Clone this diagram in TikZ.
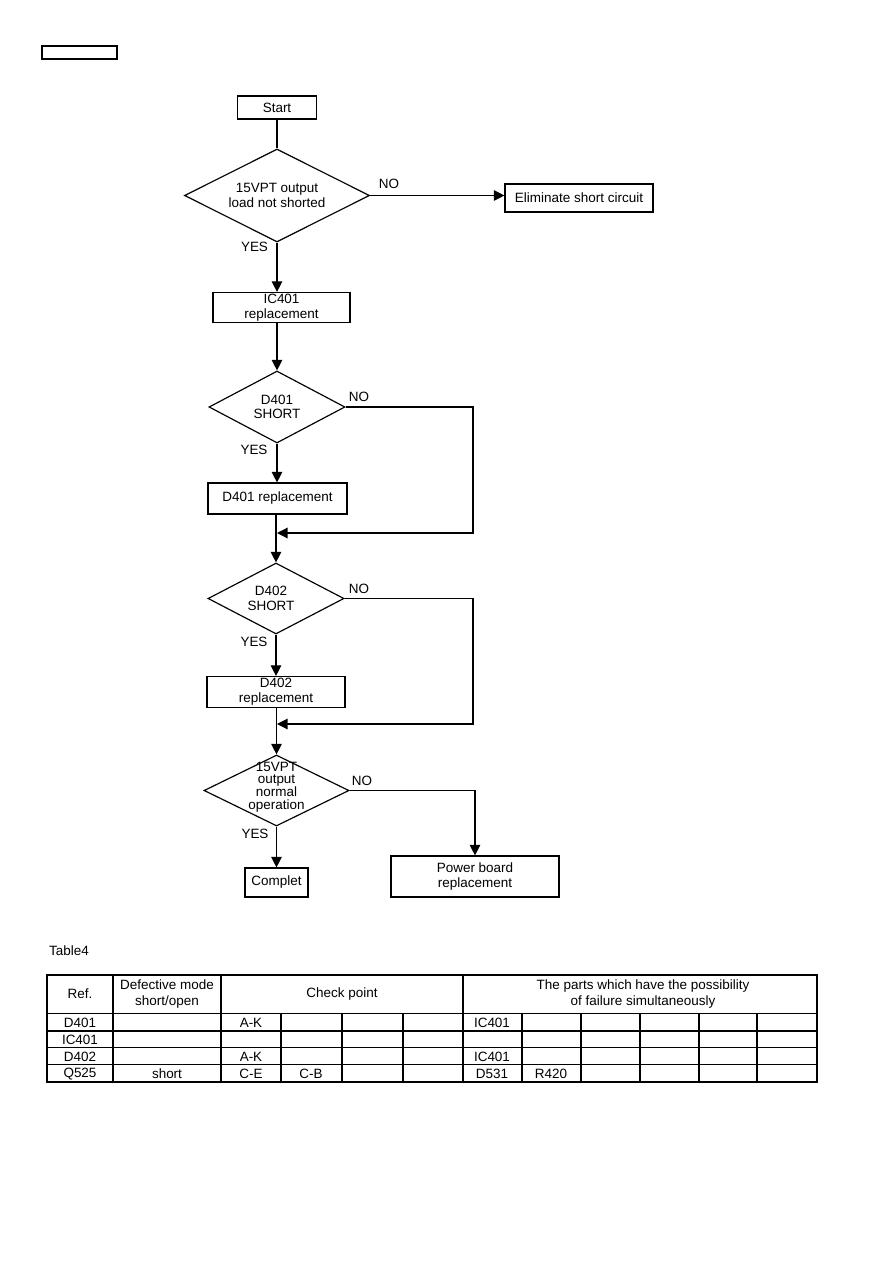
\documentclass[tikz,border=0pt]{standalone}
\usepackage{fontspec}
\setmainfont{Liberation Sans}
\usetikzlibrary{arrows.meta, shapes.geometric, positioning}

\begin{document}
\begin{tikzpicture}[x=0.03cm, y=-0.03cm, font=\fontsize{11.5}{12.5}\selectfont,
	sz/.style 2 args={minimum width=#1*0.03cm, minimum height=#2*0.03cm},
	blk/.style={rectangle, draw, line width=1pt, inner sep=0pt, align=center},
	dec/.style={diamond, draw, line width=1pt, inner sep=0pt, aspect=1},
	fl/.style={-{Triangle[length=9pt, width=9pt]}, line width=1pt},
	ln/.style={line width=1pt},
	tl/.style={line width=1.2pt},
	cell/.style={inner sep=0pt, font=\fontsize{11.5}{14}\selectfont, align=center}]

	\useasboundingbox (0,0) rectangle (893,1263);

	\node[blk, sz={75}{13}] (tag) at (79.5,52.5) {};

	% flow
	\node[blk, sz={79}{23}] (start) at (277,107.5) {Start};
	\node[dec, sz={185}{93}, label={[align=center]center:{15VPT output\\load not shorted}}] (d1) at (277,195.5) {};
	\node[blk, sz={148}{28}] (elim) at (579,198) {Eliminate short circuit};
	\node[blk, sz={137}{30}] (ic401) at (281.5,307.5) {IC401\\replacement};
	\node[dec, sz={136}{72}, label={[align=center]center:{D401\\SHORT}}] (d2) at (277,407) {};
	\node[blk, sz={139}{31}] (r401) at (277.5,498.5) {D401 replacement};
	\node[dec, sz={136}{71}, label={[align=center, xshift=-0.15cm]center:{D402\\SHORT}}] (d3) at (276,598.5) {};
	\node[blk, sz={138}{31}] (r402) at (276,692) {D402\\replacement};
	\node[dec, sz={145}{71}, label={[align=center, yshift=0.1cm, font={\fontsize{11.5}{11}\selectfont\lineskiplimit=-20pt}]center:{15VPT\\output\\normal\\operation}}] (d4) at (276.5,790.5) {};
	\node[blk, sz={63}{29}] (done) at (276.5,882.5) {Complet};
	\node[blk, sz={168}{41}] (pwr) at (475,876.5) {Power board\\replacement};

	\coordinate (j1) at (277,533);
	\coordinate (c1) at (473,533);
	\coordinate (j2) at (277,724);
	\coordinate (c2) at (473,724);

	\draw[ln] (start) -- (d1);
	\draw[fl] (d1.east) -- (d1.east -| elim.west);
	\draw[fl] (d1.south) -- (d1.south |- ic401.north);
	\draw[fl] (d2.north |- ic401.south) -- (d2.north);
	\draw[fl] (d2.south) -- (d2.south |- r401.north);
	\draw[fl] (d2.east) -| (c1) -- (j1);
	\draw[fl] (d3.north |- r401.south) -- (d3.north);
	\draw[fl] (d3.south) -- (d3.south |- r402.north);
	\draw[fl] (d3.east) -| (c2) -- (j2);
	\draw[fl] (d4.north |- r402.south) -- (d4.north);
	\draw[fl] (d4.south) -- (d4.south |- done.north);
	\draw[fl] (d4.east) -| (pwr.north);

	\node (no1) at (389,184) {NO};
	\node (yes1) at (254.5,247) {YES};
	\node (no2) at (359,397) {NO};
	\node (yes2) at (254,450) {YES};
	\node (no3) at (359,589) {NO};
	\node (yes3) at (254,642) {YES};
	\node (no4) at (362,781) {NO};
	\node (yes4) at (255,834) {YES};

	% table
	\node[anchor=west, inner sep=0pt] (ttl) at (49,951) {Table4};
	\draw[tl] (47,975) rectangle (817,1082);
	\foreach \y in {1013.5,1031,1047.5,1064.5}
		\draw[tl] (47,\y) -- (817,\y);
	\foreach \x in {113,221,463}
		\draw[tl] (\x,975) -- (\x,1082);
	\foreach \x in {281,342,403,522,581,640,699,757}
		\draw[tl] (\x,1013.5) -- (\x,1082);

	\node[cell] (h1) at (80,994) {Ref.};
	\node[cell] (h2) at (167,994) {Defective mode\\short/open};
	\node[cell] (h3) at (342,994) {Check point};
	\node[cell] (h4) at (643,994) {The parts which have the possibility\\of failure simultaneously};
	\foreach \r/\y in {D401/1022.5, IC401/1039.5, D402/1056.5, Q525/1074}
		\node[cell] (ref-\r) at (80,\y) {\r};
	\node[cell] (m4) at (167,1074) {short};
	\node[cell] (k1) at (251,1022.5) {A-K};
	\node[cell] (k3) at (251,1056.5) {A-K};
	\node[cell] (k4) at (251,1074) {C-E};
	\node[cell] (b4) at (311,1074) {C-B};
	\node[cell] (p1) at (492,1022.5) {IC401};
	\node[cell] (p3) at (492,1056.5) {IC401};
	\node[cell] (p4) at (492,1074) {D531};
	\node[cell] (q4) at (551,1074) {R420};
\end{tikzpicture}
\end{document}
